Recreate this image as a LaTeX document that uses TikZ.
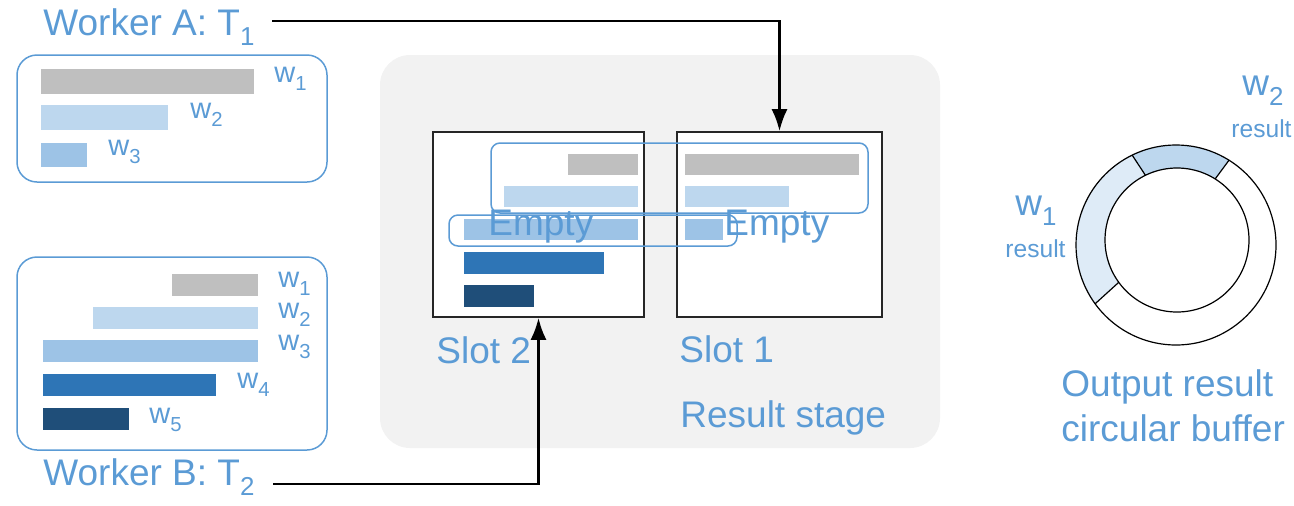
\documentclass[tikz,border=0pt]{standalone}
\usepackage{fontspec}
\setmainfont{Liberation Sans}
\usetikzlibrary{arrows.meta,fit}
\definecolor{txtblue}{HTML}{5B9BD5}
\definecolor{bargray}{HTML}{BFBFBF}
\definecolor{barpale}{HTML}{BDD7EE}
\definecolor{barmid}{HTML}{9DC3E6}
\definecolor{barblue}{HTML}{2E75B6}
\definecolor{barnavy}{HTML}{1F4E79}
\definecolor{stagebg}{HTML}{F2F2F2}
\definecolor{ringpale}{HTML}{DEEBF7}
\newcommand{\lowsub}[1]{\textsubscript{\raisebox{-0.2em}{#1}}}
\tikzset{>={Latex[length=11pt,width=8pt]}}
\tikzset{
  lbl/.style={text=txtblue, inner sep=0, anchor=base west},
  big/.style={lbl, font=\fontsize{18.5}{22}\selectfont},
  wlbl/.style={lbl, font=\fontsize{14.5}{17}\selectfont},
  small/.style={lbl, font=\fontsize{12.3}{15}\selectfont},
  wbox/.style={draw=txtblue, line width=0.75pt, rounded corners=10pt, inner sep=0},
  slotbox/.style={draw=black!85, line width=0.8pt, fill=white, inner sep=0},
  hilite/.style={draw=txtblue, line width=0.75pt, rounded corners=4.5pt},
  flow/.style={->, line width=1.3pt},
}

\begin{document}
\begin{tikzpicture}[x=0.5pt, y=-0.5pt]
    \useasboundingbox (0,0) rectangle (1294,505);
    % result stage
    \fill[stagebg, rounded corners=15pt] (380,55) rectangle (940,448);
    \node[slotbox, fit={(433,132) (644,317)}] (slot2) {};
    \node[slotbox, fit={(677,132) (882,317)}] (slot1) {};
    \fill[bargray] (568,154) rectangle (638,175);
    \fill[barpale] (504,186) rectangle (638,207);
    \fill[barmid]  (464,219) rectangle (638,240);
    \fill[barblue] (464,252) rectangle (604,274);
    \fill[barnavy] (464,285) rectangle (534,307);
    \fill[bargray] (685,154) rectangle (859,175);
    \fill[barpale] (685,186) rectangle (789,207);
    \fill[barmid]  (685,219) rectangle (723,240);
    \node[big] (empty2) at (488,235) {Empty};
    \node[big] (empty1) at (724,235) {Empty};
    \draw[hilite] (491,143) rectangle (868,213);
    \draw[hilite] (449,215) rectangle (737,246);
    \node[big] (slotlab2) at (436,363) {Slot 2};
    \node[big] (slotlab1) at (679,362) {Slot 1};
    \node[big] (stage) at (680,427) {Result stage};
    % worker A
    \node[big] (wa) at (43,35) {Worker A: T\lowsub{1}};
    \node[wbox, fit={(17,55) (327,182)}] (boxa) {};
    \fill[bargray] (41,69) rectangle (254,94);
    \fill[barpale] (41,105) rectangle (168,130);
    \fill[barmid]  (41,143) rectangle (87,167);
    \node[wlbl] (wa1) at (274,82) {w\lowsub{1}};
    \node[wlbl] (wa2) at (190,118) {w\lowsub{2}};
    \node[wlbl] (wa3) at (108,155) {w\lowsub{3}};
    % worker B
    \node[wbox, fit={(17,257) (327,450)}] (boxb) {};
    \fill[bargray] (172,274) rectangle (258,296);
    \fill[barpale] (93,307) rectangle (258,329);
    \fill[barmid]  (43,340) rectangle (258,362);
    \fill[barblue] (43,374) rectangle (216,396);
    \fill[barnavy] (43,408) rectangle (129,430);
    \node[wlbl] (wb1) at (278,287) {w\lowsub{1}};
    \node[wlbl] (wb2) at (278,318) {w\lowsub{2}};
    \node[wlbl] (wb3) at (278,350) {w\lowsub{3}};
    \node[wlbl] (wb4) at (237,388) {w\lowsub{4}};
    \node[wlbl] (wb5) at (149,423) {w\lowsub{5}};
    \node[big] (wb) at (43,485) {Worker B: T\lowsub{2}};
    % arrows into the slots
    \coordinate (ta) at (272,21);
    \coordinate (tb) at (273,484);
    \draw[flow] (ta) -| (slot1.north);
    \draw[flow] (tb) -| (slot2.south);
    % circular buffer
    \coordinate (oc) at (1176,245);
    \coordinate (ic) at (1177,240);
    \fill[ringpale] ([shift={(-116:100)}]oc) arc[start angle=-116, end angle=-216, radius=100]
        -- ([shift={(-216:72)}]ic) arc[start angle=-216, end angle=-116, radius=72] -- cycle;
    \fill[barpale] ([shift={(-58:100)}]oc) arc[start angle=-58, end angle=-116, radius=100]
        -- ([shift={(-116:72)}]ic) arc[start angle=-116, end angle=-58, radius=72] -- cycle;
    \draw[line width=0.6pt] (oc) circle[radius=100];
    \draw[line width=0.6pt] (ic) circle[radius=72];
    \draw[line width=0.6pt] ([shift={(-58:100)}]oc) -- ([shift={(-58:72)}]ic);
    \draw[line width=0.6pt] ([shift={(-116:100)}]oc) -- ([shift={(-116:72)}]ic);
    \draw[line width=0.6pt] ([shift={(-216:100)}]oc) -- ([shift={(-216:72)}]ic);
    \node[big] (rw1) at (1015,215) {w\lowsub{1}};
    \node[small] (rr1) at (1005,257) {result};
    \node[big] (rw2) at (1242,95) {w\lowsub{2}};
    \node[small] (rr2) at (1231,137) {result};
    \node[big] (out1) at (1061,396) {Output result};
    \node[big] (out2) at (1061,441) {circular buffer};
\end{tikzpicture}
\end{document}
